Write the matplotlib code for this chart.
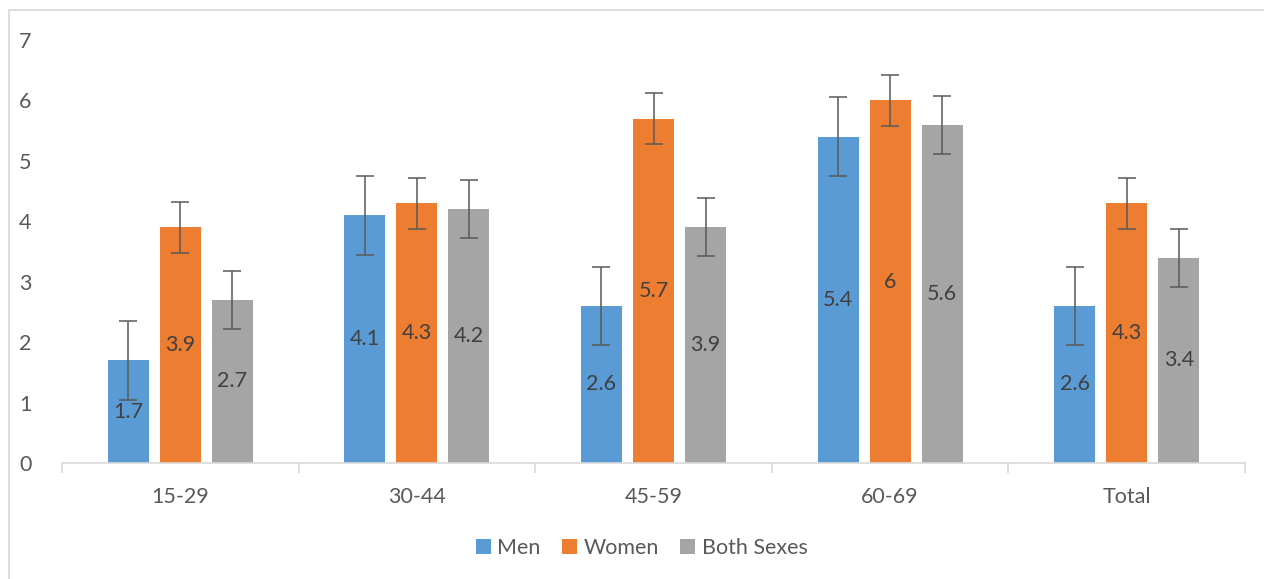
import numpy as np
import matplotlib.pyplot as plt
from matplotlib.lines import Line2D

plt.rcParams['font.family'] = ['Lato', 'DejaVu Sans']

groups = ['15-29', '30-44', '45-59', '60-69', 'Total']
series = ['Men', 'Women', 'Both Sexes']
men = [1.7, 4.1, 2.6, 5.4, 2.6]
women = [3.9, 4.3, 5.7, 6.0, 4.3]
both = [2.7, 4.2, 3.9, 5.6, 3.4]
men_err = [0.65, 0.65, 0.65, 0.65, 0.65]
women_err = [0.42, 0.42, 0.42, 0.42, 0.42]
both_err = [0.48, 0.48, 0.48, 0.48, 0.48]
# label text, as shown on the chart
men_lbl = ['1.7', '4.1', '2.6', '5.4', '2.6']
women_lbl = ['3.9', '4.3', '5.7', '6', '4.3']
both_lbl = ['2.7', '4.2', '3.9', '5.6', '3.4']

colors = ['#5B9BD5', '#ED7D31', '#A5A5A5']
txt = '#595959'
fs = 15.5

fig = plt.figure(figsize=(12.64, 5.79), dpi=100)
# chart area border (only top and left edges are inside the picture)
fig.add_artist(Line2D([9 / 1264, 9 / 1264, 1], [0, 1 - 10 / 579, 1 - 10 / 579],
                      transform=fig.transFigure, color='#D9D9D9', linewidth=1.3))
ax = fig.add_axes([62 / 1264, 1 - 463 / 579, (1245 - 62) / 1264, (463 - 40) / 579])

x = np.arange(len(groups))
w = 0.173
step = 0.22
data = [men, women, both]
errs = [men_err, women_err, both_err]
lbls = [men_lbl, women_lbl, both_lbl]
for i, (vals, err, lab) in enumerate(zip(data, errs, lbls)):
    pos = x + (i - 1) * step
    ax.bar(pos, vals, width=w, color=colors[i], label=series[i], zorder=2)
    ax.errorbar(pos, vals, yerr=err, fmt='none', ecolor='#595959',
                elinewidth=1.1, capsize=6.5, capthick=1.1, zorder=3)
    # labels sit in the middle of each bar
    for p, v, t in zip(pos, vals, lab):
        ax.text(p, v / 2, t, ha='center', va='center', fontsize=fs, color='#404040', zorder=4)

ax.set_xlim(-0.5, len(groups) - 0.5)
ax.set_ylim(0, 7)
ax.set_yticks(range(0, 8))
ax.tick_params(axis='y', length=0, pad=22, labelsize=fs, labelcolor=txt)

ax.set_xticks(x)
ax.set_xticklabels(groups)
ax.tick_params(axis='x', which='major', length=0, pad=17, labelsize=fs, labelcolor=txt)
ax.set_xticks(np.arange(-0.5, len(groups)), minor=True)
ax.tick_params(axis='x', which='minor', length=7, color='#D9D9D9', width=1.2)

for s in ['top', 'right', 'left']:
    ax.spines[s].set_visible(False)
ax.spines['bottom'].set_color('#D9D9D9')
ax.spines['bottom'].set_linewidth(1.2)

leg = ax.legend(loc='center', bbox_to_anchor=(0.49, -0.2), ncol=3, frameon=False,
                fontsize=fs, handlelength=0.7, handleheight=0.7,
                handletextpad=0.3, columnspacing=1.0)
for t in leg.get_texts():
    t.set_color(txt)

fig.savefig('out.png', dpi=100)
